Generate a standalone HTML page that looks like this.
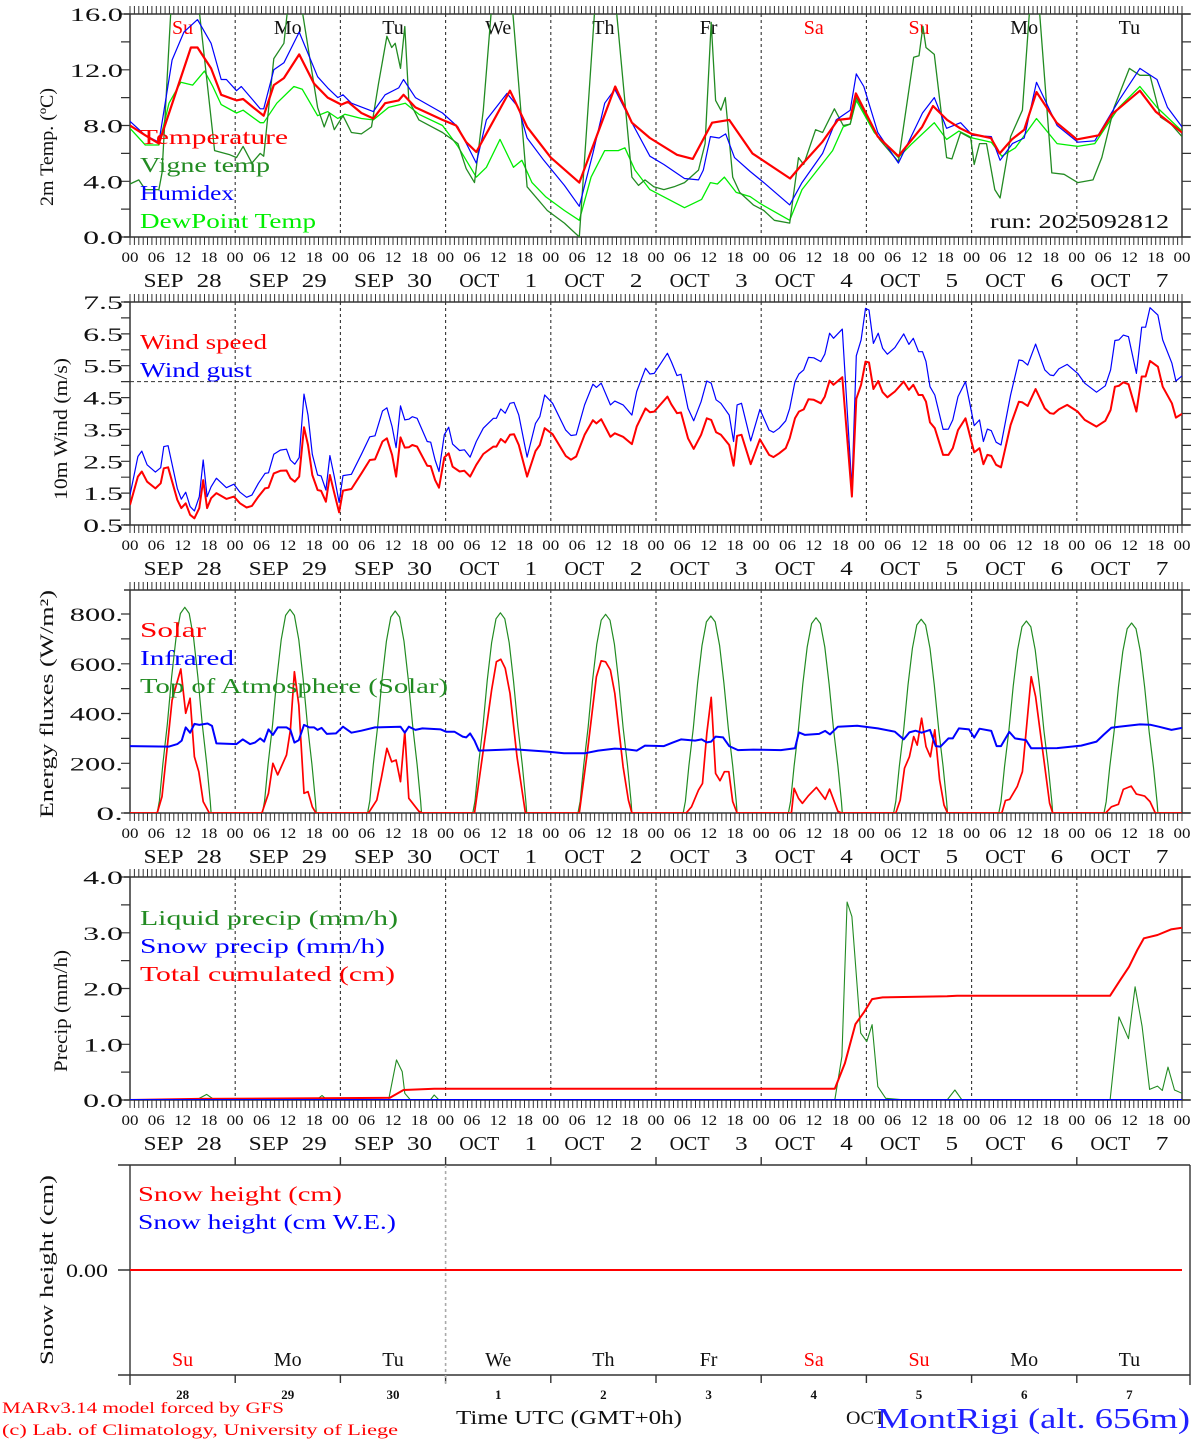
<!DOCTYPE html>
<html><head><meta charset="utf-8">
<style>
html,body{margin:0;padding:0;background:#fff;}
svg{display:block;}
svg text{font-family:"Liberation Serif","DejaVu Serif",serif;fill:#111;}
</style></head>
<body>
<svg id="chart" width="1194" height="1440" viewBox="0 0 1194 1440" xmlns="http://www.w3.org/2000/svg"></svg>
<script>
// ---------------- DATA ----------------
const dayNames = ['Su','Mo','Tu','We','Th','Fr','Sa','Su','Mo','Tu'];
const dayNameColors = ['#ff0000','#111','#111','#111','#111','#111','#ff0000','#ff0000','#111','#111'];
const dateMonths = ['SEP','SEP','SEP','OCT','OCT','OCT','OCT','OCT','OCT','OCT'];
const dateNums = ['28','29','30','1','2','3','4','5','6','7'];
const hourLabels = ['00','06','12','18'];

const tempTicks = ['0.0','4.0','8.0','12.0','16.0'];
const windTicks = ['0.5','1.5','2.5','3.5','4.5','5.5','6.5','7.5'];
const energyTicks = ['0.','200.','400.','600.','800.'];
const precipTicks = ['0.0','1.0','2.0','3.0','4.0'];

const temperature = [[0,8.0],[3.5,7.3],[6.6,6.7],[10.4,10.3],[13.9,13.6],[15.4,13.6],[18.5,12.1],[20.8,10.2],[24.3,9.8],[25.8,9.9],[28.1,9.3],[30.5,8.7],[32.8,10.9],[35.1,11.4],[38.6,13.1],[42.0,11.0],[45.1,10.0],[48.2,9.5],[49.7,9.7],[52.8,8.9],[55.5,8.5],[58.2,9.6],[61.3,9.8],[62.4,10.2],[65.1,9.3],[71.3,8.4],[74.4,8.0],[76.7,6.8],[79.0,6.1],[86.7,10.5],[90.6,7.9],[96.0,5.7],[102.5,3.9],[110.7,10.8],[114.5,8.2],[118.6,7.1],[124.8,5.9],[128.4,5.6],[132.8,8.2],[136.7,8.4],[142.0,6.0],[150.6,4.2],[153.3,5.2],[157.9,6.8],[161.5,8.4],[164.3,8.5],[165.6,10.3],[170.6,7.2],[175.3,5.8],[180.7,7.9],[183.2,9.4],[186.4,8.4],[189.4,7.8],[192.0,7.4],[196.4,7.1],[198.4,6.0],[201.2,7.0],[204.0,7.7],[206.8,10.4],[211.4,8.2],[216.0,7.0],[221.0,7.3],[224.0,8.8],[230.4,10.5],[234.0,9.0],[240,7.5]];
const vigneTemp = [[0,3.8],[2.0,4.1],[3.5,3.4],[6.6,3.4],[7.3,4.6],[9.3,16.2],[12.5,22],[15.8,16.2],[19.3,6.2],[22.8,5.9],[24.3,5.7],[25.8,6.5],[27.8,5.3],[29.7,6.0],[30.5,5.8],[32.8,12.8],[35.1,13.9],[35.9,16.2],[37.5,20],[39.3,16.2],[42.8,9.3],[44.3,7.9],[45.5,8.9],[46.6,7.7],[48.6,8.7],[50.5,7.5],[52.8,7.4],[55.1,7.9],[56.7,11.0],[58.6,14.4],[59.7,13.6],[60.5,13.9],[61.7,12.1],[62.7,15.1],[63.6,9.8],[65.9,8.4],[71.3,7.5],[74.8,6.7],[76.7,4.9],[78.6,3.9],[80.6,9.1],[82.5,16.5],[85,22],[87.3,16.2],[90.6,3.6],[95.2,1.9],[99.1,1.0],[102.5,0.0],[106.0,16.2],[108.5,22],[111.0,16.2],[114.5,4.3],[116.0,3.7],[117.5,4.1],[119.5,3.6],[121.8,3.4],[124.1,3.6],[126.5,3.9],[129.7,4.8],[131.2,6.7],[132.6,15.4],[133.6,9.8],[134.8,9.1],[135.8,10.0],[137.5,4.3],[139.1,3.2],[142.2,2.3],[144.6,1.9],[147.0,1.2],[150.5,1.0],[152.5,5.7],[153.7,5.2],[156.4,7.7],[158.0,7.5],[160.7,9.2],[162.7,8.0],[164.3,8.1],[165.7,10.0],[169.0,8.1],[171.0,7.0],[175.3,5.4],[178.8,12.9],[180.0,13.0],[180.9,15.1],[181.6,13.6],[183.5,13.1],[186.3,5.7],[187.5,5.6],[189.5,7.5],[191.8,7.1],[192.6,5.2],[193.8,6.7],[195.4,6.7],[197.3,3.4],[198.5,2.8],[200.9,7.2],[203.6,9.1],[205.2,16.2],[206.3,19],[207.5,16.2],[210.3,4.6],[213.1,4.5],[216.2,3.9],[219.7,4.1],[221.7,5.7],[224.5,9.3],[228.0,12.1],[230.4,11.6],[232.7,11.6],[235.1,8.6],[237.5,8.1],[240,7.2]];
const humidex = [[0,8.3],[3.5,7.3],[6.6,6.8],[9.6,12.7],[12.3,14.7],[15.4,15.6],[18.5,13.9],[20.8,11.3],[22,11.3],[24.3,10.5],[25.4,10.8],[28.1,9.8],[29.7,9.2],[30.5,9.2],[32.8,12.0],[35.1,12.5],[38.6,14.7],[42.8,11.5],[45.1,10.7],[47.4,10.0],[48.6,10.2],[50.5,9.6],[55.5,9.0],[58.2,10.2],[61.3,10.7],[62.4,11.3],[65.1,10.0],[71.3,8.9],[74.8,7.9],[79.0,5.3],[81.3,8.4],[86.0,10.3],[88.6,9.3],[90.6,7.1],[94.4,5.5],[99.1,3.7],[102.5,2.2],[105.6,6.0],[108.3,9.6],[110.6,10.6],[114.5,8.2],[118.6,5.8],[121.8,5.2],[126.5,4.2],[129.7,4.1],[130.8,4.8],[132.4,7.2],[134.4,7.1],[135.9,7.4],[137.9,5.7],[141.5,4.7],[144.6,3.9],[150.5,2.3],[153.3,3.9],[158.0,6.0],[161.1,8.4],[164.3,9.1],[165.7,11.7],[167.4,10.8],[170.6,7.5],[175.3,5.3],[180.8,8.9],[183.5,10.0],[186.3,7.8],[189.5,8.2],[192.2,7.3],[196.5,7.2],[198.5,5.5],[201.3,6.7],[204.0,7.1],[206.8,11.1],[211.5,8.0],[216.2,6.8],[220.1,6.9],[225.6,9.8],[230.4,12.1],[234.3,11.3],[236.7,9.3],[240,7.9]];
const dewPoint = [[0,7.8],[3.5,6.6],[6.6,6.6],[8.9,9.6],[11.6,11.1],[14.3,10.9],[17.0,11.9],[18.9,10.8],[20.8,9.5],[24.3,8.9],[25.8,9.1],[29.7,8.2],[30.5,8.2],[33.5,9.6],[37.4,10.8],[39.3,10.6],[42.8,8.7],[45.1,9.0],[47.4,8.5],[49.0,8.8],[52.8,8.5],[55.5,8.4],[59.0,9.3],[62.8,9.6],[65.9,8.8],[71.3,8.0],[74.8,6.5],[79.0,4.3],[81.3,5.0],[84.4,7.0],[87.5,5.0],[89.4,5.5],[91.7,3.9],[94.8,2.9],[99.1,1.9],[102.5,1.2],[105.2,4.3],[108.3,6.2],[111.4,6.2],[112.9,6.4],[115.2,4.8],[118.6,3.4],[126.5,2.1],[130.4,2.7],[132.4,3.9],[134.0,3.8],[135.6,4.3],[138.3,3.2],[141.5,2.9],[143.8,2.4],[150.5,1.2],[153.3,3.4],[160.3,6.2],[162.7,7.9],[164.3,8.1],[165.7,9.8],[169.8,7.5],[175.3,5.7],[178.4,6.7],[183.5,8.2],[186.3,7.0],[189.1,7.6],[192.2,7.1],[196.5,6.8],[198.9,5.8],[202.0,6.4],[206.8,8.5],[211.5,6.7],[216.2,6.5],[220.1,6.7],[225.6,9.3],[230.4,10.8],[234.3,9.3],[240,7.6]];

// wind: [hour, speed, gust]
const windRows = [[0,1.13,1.44],[1.8,2.02,2.65],[2.7,2.18,2.82],[3.9,1.86,2.39],[5.8,1.65,2.16],[7.0,1.81,2.30],[7.7,2.28,2.96],[8.7,2.31,2.99],[10.8,1.29,1.65],[11.7,1.03,1.31],[12.7,1.18,1.53],[13.7,0.82,1.08],[14.7,0.71,0.94],[15.8,1.03,1.39],[16.7,1.91,2.54],[17.6,1.03,1.39],[18.5,1.34,1.70],[19.7,1.50,1.97],[22.0,1.32,1.67],[23.7,1.39,1.78],[25.1,1.18,1.53],[26.6,1.05,1.37],[27.8,1.10,1.44],[29.3,1.39,1.81],[30.8,1.65,2.12],[31.6,1.67,2.14],[32.8,2.12,2.72],[34.3,2.20,2.85],[35.7,2.21,2.88],[36.6,1.97,2.54],[37.6,1.86,2.41],[38.6,2.02,2.62],[39.7,3.57,4.61],[40.6,3.01,3.95],[41.6,2.07,2.72],[42.8,1.60,2.07],[43.6,1.57,2.04],[44.7,1.23,1.60],[45.6,2.07,2.68],[46.6,1.50,2.02],[47.7,0.90,1.21],[48.6,1.58,2.05],[50.5,1.63,2.09],[52.8,2.12,2.72],[54.7,2.54,3.27],[55.9,2.56,3.30],[57.6,3.12,4.08],[58.6,3.22,4.18],[59.8,2.70,3.59],[60.7,2.02,2.93],[61.7,3.25,4.24],[62.7,2.93,3.80],[63.6,2.94,3.82],[64.4,3.01,3.90],[65.5,2.96,3.85],[67.8,2.36,3.12],[68.6,2.35,3.10],[69.6,1.91,2.54],[70.5,1.67,2.18],[71.7,2.62,3.33],[72.7,2.75,3.57],[73.6,2.33,3.04],[75.2,2.18,2.84],[76.3,2.20,2.86],[77.6,2.02,2.63],[79.0,2.39,3.12],[80.6,2.73,3.54],[82.9,2.96,3.85],[83.6,2.96,3.85],[84.6,3.20,4.14],[85.6,3.09,4.01],[86.7,3.33,4.32],[87.6,3.35,4.35],[88.7,3.01,3.95],[90.6,2.02,2.63],[92.5,2.82,3.69],[93.5,3.01,3.90],[94.6,3.54,4.58],[96.4,3.35,4.32],[99.4,2.67,3.48],[100.6,2.55,3.31],[101.8,2.65,3.33],[103.7,3.33,4.27],[105.6,3.79,4.92],[106.4,3.69,4.82],[107.5,3.82,4.95],[109.6,3.27,4.27],[110.6,3.38,4.39],[112.5,3.27,4.27],[114.5,3.04,3.95],[115.6,3.59,4.69],[117.6,4.16,5.42],[118.6,4.04,5.24],[119.6,4.06,5.26],[122.6,4.53,5.89],[123.5,4.29,5.63],[124.8,4.01,5.19],[125.7,4.03,5.23],[127.3,3.22,4.16],[128.6,2.89,3.77],[130.3,3.33,4.37],[131.6,3.85,5.02],[132.6,3.80,4.95],[133.7,3.41,4.43],[134.8,3.33,4.32],[136.7,3.01,3.95],[137.7,2.36,3.12],[138.5,3.30,4.27],[139.5,3.33,4.32],[141.6,2.41,3.14],[143.7,3.19,4.13],[145.8,2.70,3.48],[146.8,2.63,3.41],[148.1,2.75,3.54],[149.6,2.91,3.77],[150.5,3.22,4.16],[151.7,3.85,5.00],[152.6,4.06,5.24],[153.7,4.13,5.37],[154.8,4.45,5.76],[156.0,4.43,5.75],[157.6,4.32,5.63],[158.5,4.53,5.86],[159.6,5.03,6.52],[160.5,4.90,6.36],[162.5,5.14,6.65],[164.7,1.39,1.65],[165.7,4.46,5.81],[166.8,4.90,6.31],[167.8,5.63,7.30],[168.6,5.60,7.25],[169.6,4.77,6.20],[170.7,5.02,6.52],[171.7,4.67,6.05],[172.8,4.51,5.86],[174.5,4.69,6.07],[176.5,5.00,6.50],[177.7,4.74,6.17],[178.7,4.90,6.36],[179.9,4.58,5.94],[180.8,4.58,5.94],[181.6,4.37,5.63],[182.5,3.72,4.84],[183.6,3.54,4.58],[185.5,2.70,3.50],[186.7,2.70,3.51],[187.7,2.91,3.80],[188.9,3.48,4.53],[190.6,3.85,5.00],[192.6,2.78,3.62],[193.8,2.91,3.80],[194.7,2.41,3.12],[195.6,2.70,3.51],[196.5,2.67,3.46],[197.6,2.39,3.10],[198.7,2.31,3.01],[200.9,3.64,4.58],[202.8,4.37,5.68],[203.6,4.35,5.66],[204.8,4.24,5.52],[206.6,4.77,6.18],[208.7,4.16,5.37],[209.9,4.01,5.21],[210.7,3.99,5.19],[211.9,4.13,5.40],[213.8,4.27,5.54],[216.2,4.06,5.26],[217.8,3.80,4.95],[220.5,3.59,4.67],[222.5,3.77,4.87],[223.7,4.11,5.37],[224.7,4.84,6.29],[225.6,4.87,6.31],[226.6,4.98,6.46],[227.8,4.92,6.41],[229.6,4.06,5.26],[230.8,5.16,6.71],[231.7,5.16,6.71],[232.7,5.65,7.32],[234.5,5.47,7.09],[235.6,4.84,6.31],[237.7,4.32,5.58],[238.6,3.87,5.02],[240,3.99,5.18]];
const windRefLine = 5.0;

const solar = [[0,0],[6.2,0],[7.3,66],[8.5,267],[9.6,454],[11.6,579],[12.7,401],[13.7,461],[14.7,226],[15.7,166],[16.7,46],[18.1,0],[30.1,0],[31.6,79],[32.6,200],[33.7,153],[35.7,233],[36.6,334],[37.5,568],[38.5,434],[39.7,79],[40.6,86],[41.6,25],[42.4,0],[54.4,0],[56.3,52],[57.4,146],[58.6,260],[59.7,206],[60.7,213],[61.7,126],[62.7,327],[63.6,59],[65.9,7],[66.7,0],[78.6,0],[80.6,253],[82.5,494],[83.6,608],[84.6,618],[85.6,582],[86.7,481],[88.3,226],[90.2,0],[102.5,0],[104.4,253],[106.4,548],[107.5,612],[108.5,608],[109.6,575],[110.6,481],[112.5,186],[113.7,52],[114.5,0],[126.9,0],[128.1,25],[129.7,92],[130.6,119],[131.6,320],[132.6,465],[133.6,159],[134.6,130],[135.6,166],[136.6,166],[137.5,46],[138.5,0],[150.9,0],[151.5,99],[152.5,59],[153.4,39],[154.7,68],[156.6,103],[158.6,55],[159.6,96],[161.5,7],[162.3,0],[174.7,0],[175.7,52],[176.7,180],[177.8,226],[178.8,307],[179.6,273],[180.6,381],[181.6,267],[182.6,226],[183.6,334],[184.7,133],[185.7,32],[186.5,0],[198.9,0],[199.7,50],[200.7,55],[202.4,106],[203.6,166],[205.6,548],[206.6,468],[207.9,293],[209.8,39],[210.5,0],[222.6,0],[223.9,25],[225.5,35],[226.6,95],[228.4,108],[229.6,76],[231.5,68],[232.7,46],[233.9,0],[240,0]];
const infrared = [[0,269],[8.9,267],[10.8,277],[11.8,291],[12.7,344],[13.7,323],[14.7,358],[15.8,354],[17.7,360],[18.7,350],[19.7,280],[24.3,277],[25.7,296],[27.4,277],[28.5,283],[29.7,300],[30.6,287],[31.6,336],[32.6,314],[33.7,344],[35.7,344],[36.6,334],[37.5,283],[38.5,293],[39.7,354],[40.9,344],[42.0,344],[42.8,334],[43.7,342],[44.9,318],[47.0,320],[48.6,347],[50.5,323],[52.8,331],[55.9,344],[61.7,347],[62.7,323],[63.6,347],[65.1,334],[66.7,340],[70.9,336],[72.1,327],[74.0,327],[75.9,307],[76.7,304],[77.6,320],[78.6,291],[79.6,251],[87.5,256],[95.2,247],[99.0,240],[103.7,240],[106.8,251],[110.6,259],[112.9,257],[115.6,251],[117.5,271],[121.8,269],[123.8,283],[125.7,296],[128.9,291],[130.4,296],[131.6,284],[132.6,287],[133.6,307],[135.3,304],[136.7,269],[138.7,253],[142.2,255],[148.5,253],[151.7,260],[152.6,324],[154.0,314],[157.2,318],[158.6,330],[159.7,316],[161.5,347],[165.9,351],[170.6,340],[174.5,327],[176.5,296],[177.8,324],[179.2,331],[180.6,323],[182.5,334],[183.8,269],[184.9,267],[186.7,300],[187.7,300],[189.1,340],[191.4,336],[192.6,303],[193.8,339],[196.5,330],[197.7,269],[198.7,269],[200.6,326],[201.9,300],[204.4,293],[205.6,260],[211.5,261],[217.0,271],[220.5,287],[222.1,314],[223.9,343],[225.6,347],[230.4,356],[232.7,355],[234.7,347],[237.6,334],[240,342]];
// top-of-atmosphere: daily peak values and the diurnal profile (hours from solar noon, fraction of peak)
const toaPeaks = [827,819,812,805,799,792,785,779,772,764];
const toaNoon = 12.5;
const toaOffsets = [-6.3,-5.8,-5,-4,-3,-2,-1,0,1,2,3,4,5,5.8,6.0];
const toaShape = [0,0.06,0.24,0.43,0.66,0.85,0.97,1,0.97,0.85,0.66,0.43,0.24,0.06,0];

const liquidPrecip = [[0,0],[15.1,0],[17.5,0.1],[19.3,0],[42.5,0],[43.8,0.08],[45,0],[59,0],[60.8,0.72],[62.1,0.51],[62.7,0.12],[64,0],[68.5,0],[69.4,0.09],[70.5,0],[160.8,0],[162.4,0.78],[163.6,3.55],[164.7,3.29],[166.7,1.20],[168.1,1.05],[169.3,1.35],[170.6,0.24],[172.4,0.03],[177.1,0],[186.4,0],[188.2,0.18],[189.8,0],[223.6,0],[225.6,1.49],[227.8,1.10],[229.3,2.03],[230.9,1.32],[232.6,0.19],[234.4,0.25],[235.5,0.17],[236.8,0.59],[238.3,0.18],[240,0.12]];
const snowPrecip = [[0,0],[240,0]];
const totalCumulated = [[0,0],[15.6,0.02],[59.3,0.04],[62.4,0.18],[69.4,0.2],[160.8,0.2],[163.1,0.66],[165.5,1.36],[167.5,1.58],[169.3,1.81],[171.7,1.84],[186.4,1.86],[188.7,1.87],[223.6,1.87],[225.9,2.15],[227.9,2.39],[229.8,2.69],[231.3,2.90],[234.4,2.96],[237.5,3.06],[240,3.09]];
const snowHeight = [[0,0],[240,0]];

// ---------------- RENDER ----------------
const NS = 'http://www.w3.org/2000/svg';
const svg = document.getElementById('chart');
const X0 = 130, X1 = 1182, HOURS = 240;
function xOf(h){ return X0 + (X1 - X0) * h / HOURS; }
function mk(tag, attrs, parent){ const e = document.createElementNS(NS, tag); for (const k in attrs) e.setAttribute(k, attrs[k]); (parent || svg).appendChild(e); return e; }
function txt(s, attrs, parent){ const e = mk('text', attrs, parent); e.textContent = s; return e; }

const panels = {
  temp:   {top:14,  bot:237,  min:0,   max:16,    major:4,   minor:2,   ticks:tempTicks},
  wind:   {top:302, bot:525,  min:0.5, max:7.5,   major:1,   minor:0.5, ticks:windTicks},
  energy: {top:590, bot:813,  min:0,   max:896.5, major:200, minor:100, ticks:energyTicks},
  precip: {top:877, bot:1100, min:0,   max:4,     major:1,   minor:0.5, ticks:precipTicks}
};
function yOf(p, v){ return p.bot - (v - p.min) / (p.max - p.min) * (p.bot - p.top); }
function pathOf(p, pts){ return pts.map((q,i)=>(i?'L':'M')+xOf(q[0]).toFixed(1)+' '+yOf(p,q[1]).toFixed(1)).join(' '); }

const defs = mk('defs', {});
function drawAxes(key, p, opts){
  const g = mk('g', {});
  
  
  const cp = mk('clipPath', {id:'clip-'+key}, defs);
  mk('rect', {x:X0, y:p.top, width:X1-X0, height:p.bot-p.top}, cp);
  for (let d = 1; d < 10; d++) {
    const l = mk('line', {x1:xOf(d*24), x2:xOf(d*24), y1:p.top, y2:p.bot, stroke:'#333', 'stroke-width':1.1, 'stroke-dasharray':'3,3'}, g);
    
    
  }
  let dstr = '';
  for (let h = 0; h <= HOURS; h++) { const x = xOf(h).toFixed(1); dstr += `M${x} ${p.top-8}V${p.top}M${x} ${p.bot}V${p.bot+8}`; }
  mk('path', {d:dstr, stroke:'#333', 'stroke-width':1, fill:'none'}, g);
  let ystr = '';
  for (let v = p.min; v <= p.max + 1e-6; v += p.minor) { const y = yOf(p, v).toFixed(1); ystr += `M${X0-9} ${y}H${X0}M${X1} ${y}H${X1+9}`; }
  mk('path', {d:ystr, stroke:'#333', 'stroke-width':1.2, fill:'none'}, g);
  mk('path', {d:`M124 ${p.top}H1190M124 ${p.bot}H1190M${X0} ${p.top}V${p.bot}M${X1} ${p.top}V${p.bot}`, stroke:'#333', 'stroke-width':1.5, fill:'none'}, g);
  p.ticks.forEach((s,i) => {
    const v = p.min + i * p.major;
    const t = txt(s, {x:123, y:yOf(p, v)+7, 'text-anchor':'end', 'font-size':19, textLength:s.length*13.3, lengthAdjust:'spacingAndGlyphs'}, g);
    
    
  });
  for (let h = 0; h <= HOURS; h += 6) {
    const t = txt(hourLabels[(h/6)%4], {x:xOf(h), y:p.bot+25, 'text-anchor':'middle', 'font-size':15, textLength:17, lengthAdjust:'spacingAndGlyphs'}, g);
    
    
  }
  for (let d = 0; d < 10; d++) {
    const c = xOf(d*24+12);
    const m = txt(dateMonths[d], {x:c-39, y:p.bot+50, 'font-size':20, textLength:40, lengthAdjust:'spacingAndGlyphs'}, g);
    
    
    const n = txt(dateNums[d], {x:c+39, y:p.bot+50, 'text-anchor':'end', 'font-size':20, textLength:dateNums[d].length*12.5, lengthAdjust:'spacingAndGlyphs'}, g);
    
    
  }
  const tt = txt(opts.title, {x:0, y:0, 'text-anchor':'middle', 'font-size':19, textLength:opts.titleLen, lengthAdjust:'spacingAndGlyphs', transform:`translate(${opts.titleX},${opts.titleY}) rotate(-90)`}, g);
  
  
}
function drawSeries(key, p, pts, color, width, name){
  const e = mk('path', {d:pathOf(p, pts), stroke:color, 'stroke-width':width, fill:'none', 'clip-path':`url(#clip-${key})`, 'stroke-linejoin':'round'});
  
  
  return e;
}
function legend(items, x, y0){
  items.forEach((it,i) => {
    const t = txt(it[0], {x:x, y:y0+i*28, 'font-size':21, fill:it[1], textLength:it[2], lengthAdjust:'spacingAndGlyphs', style:'fill:'+it[1]});
    
    
  });
}

// Temperature panel
const PT = panels.temp;
drawAxes('temp', PT, {title:'2m Temp. (ºC)', titleX:53, titleY:147, titleLen:118});
dayNames.forEach((s,d) => {
  const t = txt(s, {x:xOf(d*24+12), y:34, 'text-anchor':'middle', 'font-size':20, style:'fill:'+dayNameColors[d]});
  
  
});
drawSeries('temp', PT, dewPoint, '#00ee00', 1.3, 'dewpoint-line');
drawSeries('temp', PT, vigneTemp, '#228b22', 1.3, 'vigne-temp-line');
drawSeries('temp', PT, humidex, '#0000ff', 1.2, 'humidex-line');
drawSeries('temp', PT, temperature, '#ff0000', 2.2, 'temperature-line');
legend([['Temperature','#ff0000',148,'legend-temperature'],['Vigne temp','#228b22',130,'legend-vigne-temp'],['Humidex','#0000ff',94,'legend-humidex'],['DewPoint Temp','#00ee00',176,'legend-dewpoint']], 140, 144);
const run = txt('run: 2025092812', {x:990, y:228, 'font-size':20, textLength:179, lengthAdjust:'spacingAndGlyphs'});



// Wind panel
const PW = panels.wind;
drawAxes('wind', PW, {title:'10m Wind (m/s)', titleX:67, titleY:429, titleLen:142});
const ref = mk('line', {x1:X0, x2:X1, y1:yOf(PW, windRefLine), y2:yOf(PW, windRefLine), stroke:'#333', 'stroke-width':1, 'stroke-dasharray':'4,3'});


drawSeries('wind', PW, windRows.map(r=>[r[0], r[2]]), '#0000ff', 1.2, 'wind-gust-line');
drawSeries('wind', PW, windRows.map(r=>[r[0], r[1]]), '#ff0000', 2, 'wind-speed-line');
legend([['Wind speed','#ff0000',127,'legend-wind-speed'],['Wind gust','#0000ff',112,'legend-wind-gust']], 140, 349);

// Energy panel
const PE = panels.energy;
drawAxes('energy', PE, {title:'Energy fluxes (W/m²)', titleX:53, titleY:704, titleLen:228});
const toaPts = [[0,0]];
toaPeaks.forEach((pk,d) => { toaOffsets.forEach((o,i) => toaPts.push([d*24 + toaNoon + o, pk * toaShape[i]])); });
toaPts.push([240,0]);
drawSeries('energy', PE, toaPts, '#228b22', 1.2, 'toa-solar-line');
drawSeries('energy', PE, solar, '#ff0000', 1.7, 'solar-line');
drawSeries('energy', PE, infrared, '#0000ff', 2, 'infrared-line');
legend([['Solar','#ff0000',66,'legend-solar'],['Infrared','#0000ff',94,'legend-infrared'],['Top of Atmosphere (Solar)','#228b22',308,'legend-toa']], 140, 637);

// Precip panel
const PP = panels.precip;
drawAxes('precip', PP, {title:'Precip (mm/h)', titleX:67, titleY:1011, titleLen:122});
drawSeries('precip', PP, liquidPrecip, '#228b22', 1.1, 'liquid-precip-line');
drawSeries('precip', PP, totalCumulated, '#ff0000', 2, 'total-cumulated-line');
drawSeries('precip', PP, snowPrecip, '#0000ff', 2, 'snow-precip-line');
legend([['Liquid precip (mm/h)','#228b22',258,'legend-liquid-precip'],['Snow precip (mm/h)','#0000ff',245,'legend-snow-precip'],['Total cumulated (cm)','#ff0000',255,'legend-total-cumulated']], 140, 925);

// Snow panel
const PS = {top:1165, bot:1375, min:-1, max:1};
const sg = mk('g', {});


let sd = `M118 ${PS.top}H1190M118 ${PS.bot}H1190M${X0} ${PS.top}V${PS.bot+10}M1190 ${PS.top}V${PS.bot+10}M118 1270H${X0}`;
for (let d = 1; d < 10; d++) { const x = xOf(d*24).toFixed(1); sd += `M${x} ${PS.top-8}V${PS.top}M${x} ${PS.bot}V${PS.bot+8}`; }
mk('path', {d:sd, stroke:'#333', 'stroke-width':1.4, fill:'none'}, sg);
mk('line', {x1:xOf(72), x2:xOf(72), y1:PS.top, y2:PS.bot+10, stroke:'#aaa', 'stroke-width':1.6, 'stroke-dasharray':'3,3'}, sg);
const z = txt('0.00', {x:108, y:1277, 'text-anchor':'end', 'font-size':19, textLength:42, lengthAdjust:'spacingAndGlyphs'}, sg);


const st = txt('Snow height (cm)', {x:0, y:0, 'text-anchor':'middle', 'font-size':19, textLength:190, lengthAdjust:'spacingAndGlyphs', transform:'translate(53,1270) rotate(-90)'}, sg);


const snowLine = mk('path', {d:snowHeight.map((q,i)=>(i?'L':'M')+xOf(q[0]).toFixed(1)+' '+(1270 - q[1]*100).toFixed(1)).join(' '), stroke:'#ff0000', 'stroke-width':2, fill:'none'});


legend([['Snow height (cm)','#ff0000',204,'legend-snow-height'],['Snow height (cm W.E.)','#0000ff',258,'legend-snow-we']], 138, 1201);
dayNames.forEach((s,d) => {
  const t = txt(s, {x:xOf(d*24+12), y:1366, 'text-anchor':'middle', 'font-size':20, style:'fill:'+dayNameColors[d]});
  
  
  const n = txt(dateNums[d], {x:xOf(d*24+12), y:1399, 'text-anchor':'middle', 'font-size':13, 'font-weight':'bold'});
  
  
});
const xt = txt('Time UTC (GMT+0h)', {x:456, y:1424, 'font-size':20, textLength:226, lengthAdjust:'spacingAndGlyphs'});


const oc = txt('OCT', {x:846, y:1424, 'font-size':19, textLength:40, lengthAdjust:'spacingAndGlyphs'});


const c1 = txt('MARv3.14 model forced by GFS', {x:2, y:1413, 'font-size':16, textLength:282, lengthAdjust:'spacingAndGlyphs', style:'fill:#ff0000'});


const c2 = txt('(c) Lab. of Climatology, University of Liege', {x:2, y:1435, 'font-size':16, textLength:396, lengthAdjust:'spacingAndGlyphs', style:'fill:#ff0000'});


const loc = txt('MontRigi (alt. 656m)', {x:877, y:1428, 'font-size':28, textLength:313, lengthAdjust:'spacingAndGlyphs', style:'fill:#2020ff'});


</script>
</body></html>
